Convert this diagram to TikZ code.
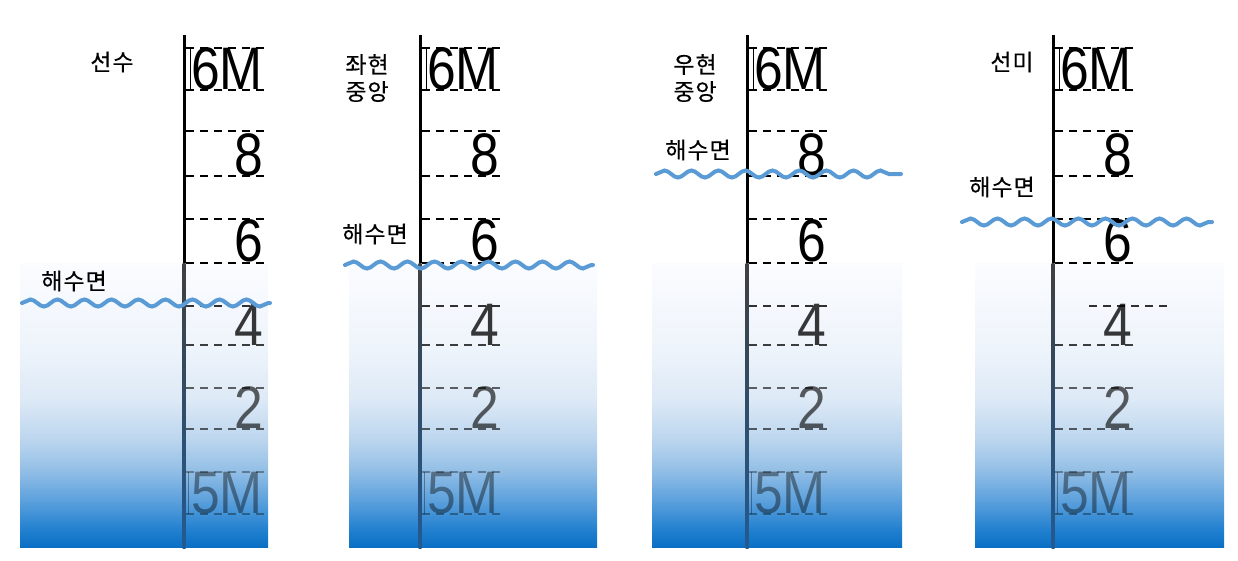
\documentclass[tikz,border=0pt]{standalone}
\usepackage{fontspec}
\setmainfont{Liberation Sans}
\newfontfamily\kfont[FakeBold=0.35,LetterSpace=4]{Noto Sans CJK KR}
\usepackage{graphicx}
\usetikzlibrary{decorations.pathmorphing}

\definecolor{waveblue}{RGB}{91,155,213}
\definecolor{sea0}{RGB}{10,111,196}
\definecolor{sea1}{RGB}{33,128,207}
\definecolor{sea2}{RGB}{90,159,220}
\definecolor{sea3}{RGB}{147,191,230}
\definecolor{sea4}{RGB}{188,214,238}
\definecolor{sea5}{RGB}{221,233,246}
\definecolor{sea6}{RGB}{238,244,251}
\definecolor{sea7}{RGB}{251,252,255}
\definecolor{deeprule}{RGB}{35,90,145}
\pgfdeclareverticalshading{seawater}{100bp}{color(0bp)=(sea0); color(25bp)=(sea0); color(28bp)=(sea1); color(33bp)=(sea2); color(38.5bp)=(sea3); color(44bp)=(sea4); color(51bp)=(sea5); color(60bp)=(sea6); color(75bp)=(sea7); color(100bp)=(sea7)}

\begin{document}
\begin{tikzpicture}[x=1pt,y=-1pt,{drafttick/.style={line width=1.6pt,dash pattern=on 8pt off 6pt}},{rule/.style={line width=3pt}},{seasurf/.style={draw=waveblue,line width=4pt,line cap=round,decorate,decoration={snake,segment length=27pt,amplitude=3.5pt}}},{hangul/.style={font=\kfont\fontsize{23}{27}\selectfont,align=center,inner sep=0pt}},{draftnum/.style={anchor=east,inner sep=0pt,font=\fontsize{60}{60}\selectfont}}]
	\useasboundingbox (0,0) rectangle (1238,560);
	%%four draft scales: rule x / water box / wave / shift of upper tick of 4
	\foreach \px/\rl/\rr/\wl/\wr/\wy/\off [count=\i] in {184/20/268/22/270/303/0,420/349/597/345/593/265/0,747/652/902/656/901/174/0,1053/975/1224/962/1212/222/34}{
		%%water
		\shade[shading=seawater] (\rl,263) rectangle (\rr,547);
		%%rule
		\draw[rule] (\px,35) -- (\px,263);
		\shade[top color=black!75,bottom color=deeprule] (\px-1.5,263) rectangle (\px+1.5,548);
		%%ticks above
		\foreach \ty in {48,90,131,176,219,263}
			\draw[drafttick] (\px+2,\ty) -- (\px+80,\ty);
		\draw[line width=0.8pt] (\px+6,48) -- (\px+6,90);
		%%ticks below
		\draw[drafttick,opacity=.8] (\px+2+\off,306) -- (\px+80+\off,306);
		\draw[drafttick,opacity=.75] (\px+2,345) -- (\px+80,345);
		\foreach \ty in {388,429}
			\draw[drafttick,opacity=.6] (\px+2,\ty) -- (\px+80,\ty);
		\foreach \ty in {472,514}
			\draw[drafttick,opacity=.35] (\px+2,\ty) -- (\px+80,\ty);
		\draw[line width=0.8pt,opacity=.35] (\px+4,472) -- (\px+4,514);
		%%numbers
		\node[draftnum] (sixM\i) at (\px+79,69) {\scalebox{0.86}[1]{6M}};
		\node[draftnum] (eight\i) at (\px+79,155) {\scalebox{0.86}[1]{8}};
		\node[draftnum] (six\i) at (\px+79,241) {\scalebox{0.86}[1]{6}};
		\node[draftnum,opacity=.78] (four\i) at (\px+79,325) {\scalebox{0.86}[1]{4}};
		\node[draftnum,opacity=.62] (two\i) at (\px+79,408) {\scalebox{0.86}[1]{2}};
		\node[draftnum,opacity=.4] (fiveM\i) at (\px+79,493) {\scalebox{0.86}[1]{5M}};
		%%sea surface
		\draw[seasurf] (\wl,\wy) -- (\wr,\wy);
	}
	%%labels
	\node[hangul] (bow) at (112,62) {선수};
	\node[hangul] (portmid) at (367,78) {좌현\\중앙};
	\node[hangul] (stbdmid) at (695,78) {우현\\중앙};
	\node[hangul] (stern) at (1012,62) {선미};
	\node[hangul] (sea1) at (74,281) {해수면};
	\node[hangul] (sea2) at (375,234) {해수면};
	\node[hangul] (sea3) at (698,150) {해수면};
	\node[hangul] (sea4) at (1002,187) {해수면};
\end{tikzpicture}
\end{document}
